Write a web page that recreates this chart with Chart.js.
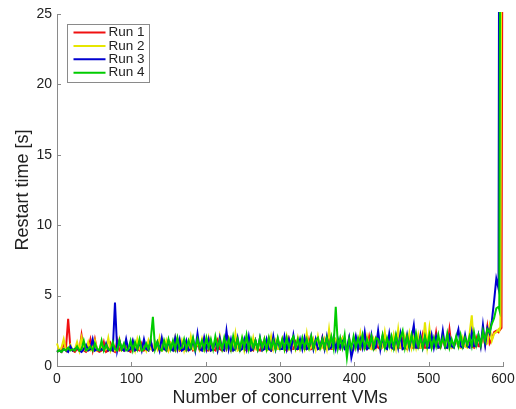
<!DOCTYPE html>
<html>
<head>
<meta charset="utf-8">
<script src="https://cdn.jsdelivr.net/npm/chart.js@4/dist/chart.umd.min.js"></script>
<style>
  body { margin: 0; background: #fff; }
  canvas { display: block; }
</style>
</head>
<body>
<canvas id="restartChart" width="516" height="409"></canvas>
<script>
// x positions: every 3 VMs up to 591, then the steep tail near 600
const vmCounts = [];
for (let v = 0; v <= 591; v += 3) vmCounts.push(v);
vmCounts.push(594, 595, 596.5, 598, 599.5);

// one row = 10 samples (30 VMs)
const run1 = [
  1.0, 1.1, 1.0, 1.6, 1.2, 3.35, 1.3, 1.1, 1.0, 1.2,
  1.1, 2.2, 1.1, 1.0, 1.2, 1.9, 1.1, 1.9, 1.1, 1.0,
  1.1, 1.7, 1.0, 1.1, 1.6, 1.1, 1.0, 1.8, 1.1, 1.2,
  1.1, 1.5, 1.1, 1.0, 1.7, 1.1, 1.2, 1.1, 1.6, 1.1,
  1.2, 1.1, 1.8, 1.1, 1.2, 1.5, 1.1, 1.2, 1.7, 1.1,
  1.1, 1.6, 1.2, 1.1, 1.9, 1.1, 1.2, 1.7, 1.1, 1.2,
  1.8, 1.1, 1.2, 1.6, 1.1, 1.2, 1.9, 1.1, 1.1, 1.7,
  1.2, 1.1, 1.8, 1.2, 1.1, 1.6, 1.2, 1.9, 1.1, 1.2,
  2.0, 1.2, 1.1, 1.7, 1.2, 1.1, 1.9, 1.2, 1.1, 1.8,
  1.2, 1.1, 1.6, 1.2, 1.2, 1.9, 1.1, 1.2, 1.7, 1.2,
  1.2, 1.8, 1.2, 1.1, 1.9, 1.2, 1.2, 1.7, 1.2, 1.3,
  1.8, 1.2, 1.2, 1.9, 1.2, 1.3, 1.7, 1.2, 1.2, 2.0,
  1.2, 1.3, 2.2, 1.2, 1.2, 1.8, 1.3, 1.2, 1.9, 1.3,
  1.2, 1.7, 1.3, 1.2, 2.0, 1.3, 1.2, 1.8, 1.3, 1.2,
  2.1, 1.3, 1.2, 1.9, 1.3, 1.2, 2.0, 1.3, 1.3, 1.8,
  1.3, 1.2, 2.0, 1.3, 1.3, 1.9, 1.3, 1.2, 2.1, 1.3,
  1.3, 2.0, 1.3, 1.3, 2.2, 1.3, 1.3, 1.9, 1.3, 1.4,
  2.4, 1.3, 1.3, 2.0, 1.4, 1.3, 2.6, 1.3, 1.4, 1.9,
  1.4, 1.3, 1.8, 1.4, 1.4, 1.9, 1.4, 1.3, 2.0, 1.4,
  1.4, 2.2, 1.5, 2.8, 1.6, 1.9, 2.4, 2.5,
  2.4, 2.5, 2.6, 2.7, 40
];
const run2 = [
  1.6, 1.1, 1.3, 1.9, 1.1, 1.2, 1.5, 1.1, 1.2, 1.7,
  1.1, 2.0, 1.2, 1.1, 1.7, 1.1, 1.2, 1.8, 1.1, 1.2,
  1.6, 1.1, 1.2, 2.0, 1.1, 1.5, 1.1, 1.2, 1.9, 1.1,
  1.2, 1.8, 1.1, 1.2, 1.7, 1.1, 1.9, 1.2, 1.1, 1.6,
  1.1, 1.8, 1.2, 1.1, 1.7, 1.2, 2.0, 1.1, 1.2, 1.8,
  1.1, 1.6, 1.2, 2.0, 1.1, 1.2, 1.8, 1.1, 1.7, 1.2,
  2.1, 1.2, 1.1, 1.8, 1.2, 1.9, 1.1, 1.2, 2.0, 1.1,
  1.2, 1.7, 1.1, 2.1, 1.2, 1.1, 1.9, 1.2, 1.6, 1.2,
  2.3, 1.1, 1.2, 1.9, 1.1, 1.8, 1.2, 1.1, 2.0, 1.2,
  1.1, 1.7, 1.2, 1.9, 1.1, 1.2, 2.1, 1.2, 1.8, 1.2,
  1.2, 1.9, 1.2, 2.1, 1.2, 1.1, 1.8, 1.2, 2.0, 1.2,
  1.7, 1.2, 2.3, 1.2, 1.3, 1.9, 1.2, 2.1, 1.2, 1.3,
  1.9, 1.2, 2.6, 1.3, 1.2, 1.8, 1.3, 1.2, 1.9, 1.3,
  1.2, 2.0, 1.3, 1.2, 1.8, 1.3, 2.3, 1.2, 1.3, 2.1,
  1.3, 1.2, 1.9, 1.3, 2.2, 1.2, 1.3, 2.4, 1.3, 2.0,
  1.3, 2.2, 1.3, 2.6, 1.3, 1.2, 2.1, 1.3, 2.3, 1.3,
  2.0, 1.3, 2.2, 1.3, 1.3, 3.1, 1.4, 2.7, 1.3, 1.3,
  2.0, 1.3, 1.4, 2.3, 1.3, 1.4, 2.1, 1.3, 1.4, 1.9,
  1.4, 1.3, 2.0, 1.4, 1.3, 2.3, 3.6, 1.4, 1.4, 2.0,
  1.4, 2.3, 1.5, 1.6, 2.8, 1.8, 2.3, 2.4,
  2.6, 2.5, 2.8, 40, 40
];
const run3 = [
  1.0, 1.1, 1.0, 1.2, 1.1, 1.0, 1.4, 1.1, 1.2, 1.3,
  1.1, 1.0, 1.2, 1.5, 1.1, 1.2, 1.9, 1.1, 1.2, 1.1,
  1.2, 1.1, 1.6, 1.1, 1.2, 1.1, 4.5, 1.1, 1.8, 1.2,
  1.1, 1.9, 1.1, 1.2, 1.8, 1.1, 1.2, 1.7, 1.1, 1.9,
  1.2, 1.1, 1.8, 1.1, 1.2, 1.7, 1.1, 2.0, 1.2, 1.1,
  1.8, 1.2, 1.1, 2.0, 1.2, 1.9, 1.1, 1.2, 1.8, 1.1,
  1.2, 1.9, 1.1, 2.3, 1.2, 1.1, 2.0, 1.2, 1.9, 1.1,
  1.2, 1.8, 1.1, 2.0, 1.2, 1.1, 2.5, 1.2, 1.9, 1.1,
  1.2, 2.0, 1.1, 1.2, 1.9, 1.2, 2.1, 1.1, 1.2, 1.8,
  1.2, 2.0, 1.1, 1.2, 1.9, 1.2, 1.1, 2.1, 1.2, 1.9,
  1.2, 1.2, 2.1, 1.2, 1.9, 1.2, 2.2, 1.2, 1.2, 1.9,
  1.2, 2.0, 1.2, 1.3, 2.1, 1.2, 1.9, 1.2, 1.3, 2.0,
  1.2, 2.1, 1.2, 1.3, 2.0, 1.2, 1.9, 1.3, 1.7, 1.2,
  1.3, 2.0, 0.6, 1.3, 2.1, 1.2, 1.9, 1.3, 2.4, 1.2,
  1.3, 2.2, 1.2, 1.3, 2.5, 1.2, 2.1, 1.3, 1.2, 2.3,
  1.3, 1.2, 2.1, 1.3, 2.3, 1.2, 1.3, 2.2, 1.3, 2.0,
  2.9, 1.3, 1.3, 2.2, 1.3, 2.0, 1.3, 1.3, 2.2, 1.3,
  2.1, 1.3, 1.4, 2.5, 1.3, 1.3, 2.1, 1.4, 1.3, 2.0,
  2.6, 1.4, 1.3, 2.2, 1.4, 1.3, 2.4, 1.4, 1.4, 2.2,
  1.4, 2.9, 1.5, 2.7, 2.3, 3.2, 4.6, 6.2,
  5.5, 40, 40, 40, 40
];
const run4 = [
  1.0, 1.1, 1.0, 1.2, 1.1, 1.3, 1.1, 1.2, 1.1, 1.4,
  1.1, 1.2, 1.8, 1.1, 1.2, 1.4, 1.1, 1.6, 1.2, 1.1,
  1.8, 1.1, 1.5, 1.2, 1.1, 1.7, 1.2, 1.1, 1.8, 1.2,
  1.6, 1.1, 1.2, 1.8, 1.1, 1.7, 1.2, 1.9, 1.1, 1.2,
  1.6, 1.2, 1.8, 3.5, 1.2, 1.7, 1.2, 1.1, 1.8, 1.2,
  1.9, 1.2, 1.8, 1.2, 2.0, 1.2, 1.3, 1.9, 1.2, 1.8,
  1.3, 2.0, 1.2, 1.9, 1.3, 1.8, 1.2, 2.0, 1.3, 1.9,
  1.2, 2.1, 1.3, 1.8, 1.2, 2.0, 1.3, 1.9, 1.2, 2.1,
  1.3, 1.9, 1.2, 2.0, 1.3, 2.2, 1.2, 1.9, 1.3, 1.8,
  1.2, 2.0, 1.3, 1.9, 1.2, 2.0, 1.3, 1.8, 1.2, 2.0,
  1.3, 1.9, 1.2, 2.0, 1.3, 1.8, 2.1, 1.3, 1.9, 1.3,
  2.0, 1.3, 1.9, 1.3, 2.1, 1.3, 1.8, 2.0, 1.3, 1.9,
  1.3, 2.0, 1.4, 2.1, 1.3, 4.2, 1.3, 2.0, 1.3, 2.2,
  0.6, 1.9, 1.3, 2.1, 1.3, 2.0, 1.4, 2.2, 1.3, 1.9,
  1.4, 2.1, 1.3, 2.0, 1.9, 1.4, 2.2, 1.3, 2.0, 1.4,
  2.1, 1.3, 2.2, 1.4, 2.0, 2.5, 1.3, 2.1, 1.4, 2.2,
  1.4, 2.3, 1.4, 2.0, 1.3, 2.1, 1.4, 2.2, 1.3, 2.0,
  1.4, 2.2, 1.4, 2.0, 1.4, 2.3, 1.3, 1.9, 1.4, 2.1,
  1.4, 2.2, 1.4, 2.0, 1.5, 2.1, 1.4, 2.4, 1.5, 2.2,
  1.5, 2.5, 1.8, 2.6, 2.4, 3.0, 3.4, 4.1,
  4.2, 4.0, 40, 40, 40
];

const runLabels = ["Run 1", "Run 2", "Run 3", "Run 4"];
const runColors = ["#f01010", "#e6e600", "#0000d0", "#00cc00"];
const yTicks = [0, 5, 10, 15, 20, 25];
const xTicks = [0, 100, 200, 300, 400, 500, 600];

const FONT = "'Liberation Sans', Arial, Helvetica, sans-serif";
const AXIS_GREY = "#8a8a8a";
const TEXT = "#222";

const toPoints = (values) => values.map((y, i) => ({ x: vmCounts[i], y }));

// ticks pointing into the plot, like the MATLAB original
const innerTicks = {
  id: "innerTicks",
  afterDraw(chart) {
    const { ctx, chartArea, scales } = chart;
    ctx.save();
    ctx.strokeStyle = AXIS_GREY;
    ctx.lineWidth = 1;
    ctx.beginPath();
    xTicks.forEach((t) => {
      const px = Math.round(scales.x.getPixelForValue(t)) + 0.5;
      ctx.moveTo(px, chartArea.bottom);
      ctx.lineTo(px, chartArea.bottom - 4);
    });
    yTicks.forEach((t) => {
      const py = Math.round(scales.y.getPixelForValue(t)) + 0.5;
      ctx.moveTo(chartArea.left, py);
      ctx.lineTo(chartArea.left + 4, py);
    });
    ctx.stroke();
    ctx.restore();
  }
};

const boxLegend = {
  id: "boxLegend",
  afterDraw(chart) {
    const { ctx, chartArea } = chart;
    const x = chartArea.left + 10.5;
    const y = chartArea.top + 10.5;
    const w = 82;
    const h = 58;
    ctx.save();
    ctx.fillStyle = "#fff";
    ctx.fillRect(x, y, w, h);
    ctx.strokeStyle = AXIS_GREY;
    ctx.lineWidth = 1;
    ctx.strokeRect(x, y, w, h);
    ctx.font = "13.5px " + FONT;
    ctx.textBaseline = "middle";
    ctx.fillStyle = TEXT;
    runLabels.forEach((label, i) => {
      const rowY = y + 8 + i * 13.4;
      ctx.strokeStyle = runColors[i];
      ctx.lineWidth = 2;
      ctx.beginPath();
      ctx.moveTo(x + 6, rowY);
      ctx.lineTo(x + 38, rowY);
      ctx.stroke();
      ctx.fillText(label, x + 41, rowY);
    });
    ctx.restore();
  }
};

const ctx = document.getElementById("restartChart").getContext("2d");
new Chart(ctx, {
  type: "line",
  data: {
    datasets: [run1, run2, run3, run4].map((values, i) => ({
      label: runLabels[i],
      data: toPoints(values),
      borderColor: runColors[i],
      backgroundColor: runColors[i],
      borderWidth: 2,
      pointRadius: 0,
      tension: 0,
      fill: false,
      clip: 2,
      order: 4 - i
    }))
  },
  options: {
    responsive: false,
    animation: false,
    layout: { padding: { top: 14, right: 13, left: 0, bottom: 0 } },
    plugins: {
      legend: { display: false },
      tooltip: { enabled: false }
    },
    scales: {
      x: {
        type: "linear",
        min: 0,
        max: 600,
        afterBuildTicks: (scale) => { scale.ticks = xTicks.map((value) => ({ value })); },
        afterFit: (scale) => {
          scale.height = 43;
          scale.paddingLeft = 0;
          scale.paddingRight = 0;
        },
        ticks: { color: TEXT, font: { family: FONT, size: 14 }, padding: 5, maxRotation: 0 },
        grid: { drawOnChartArea: false, drawTicks: false },
        border: { display: true, color: AXIS_GREY, width: 1 },
        title: {
          display: true,
          text: "Number of concurrent VMs",
          color: TEXT,
          font: { family: FONT, size: 18 },
          padding: { top: 0, bottom: 0 }
        }
      },
      y: {
        min: 0,
        max: 25,
        afterBuildTicks: (scale) => { scale.ticks = yTicks.map((value) => ({ value })); },
        afterFit: (scale) => {
          scale.width = 57;
          scale.paddingTop = 0;
          scale.paddingBottom = 0;
        },
        ticks: { color: TEXT, font: { family: FONT, size: 14 }, padding: 5 },
        grid: { drawOnChartArea: false, drawTicks: false },
        border: { display: true, color: AXIS_GREY, width: 1 },
        title: {
          display: true,
          text: "Restart time [s]",
          color: TEXT,
          font: { family: FONT, size: 18 },
          padding: { top: 12, bottom: 0 }
        }
      }
    }
  },
  plugins: [innerTicks, boxLegend]
});
</script>
</body>
</html>
